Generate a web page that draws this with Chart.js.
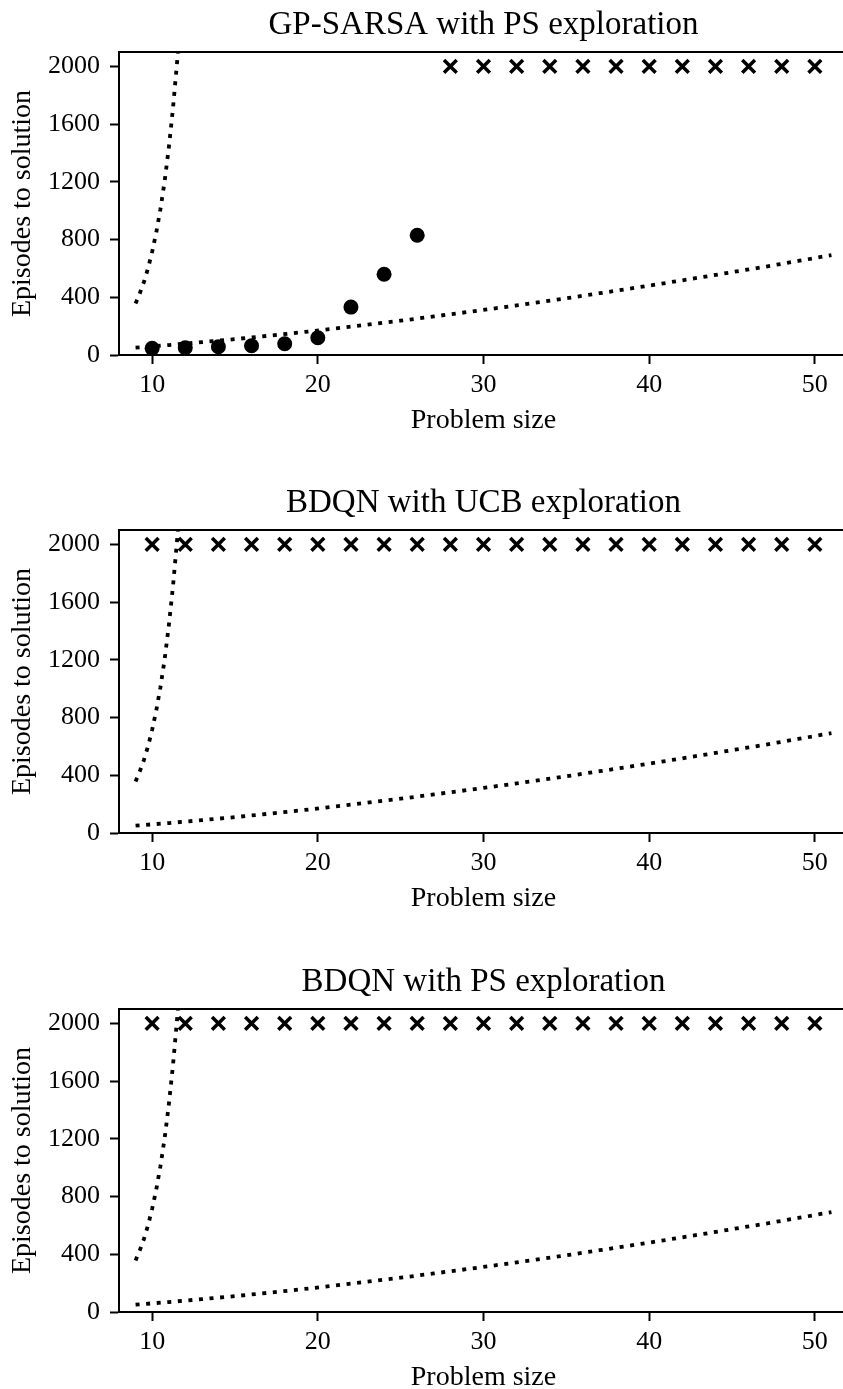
<!DOCTYPE html>
<html>
<head>
<meta charset="utf-8">
<script src="https://cdn.jsdelivr.net/npm/chart.js@4.4.1/dist/chart.umd.min.js"></script>
<style>
  html, body { margin: 0; padding: 0; background: #fff; overflow: hidden; width: 843px; height: 1389px; }
  .panel { position: absolute; left: 0; width: 848px; height: 478px; }
</style>
</head>
<body>
<div class="panel" style="top:0px"><canvas id="chart1" width="848" height="478"></canvas></div>
<div class="panel" style="top:478px"><canvas id="chart2" width="848" height="478"></canvas></div>
<div class="panel" style="top:957px"><canvas id="chart3" width="848" height="478"></canvas></div>
<script>
// panel titles
const titles = ['GP-SARSA with PS exploration', 'BDQN with UCB exploration', 'BDQN with PS exploration'];

// steep reference curve (dotted)
const expX = [9, 9.25, 9.5, 9.75, 10, 10.25, 10.5, 10.75, 11, 11.25, 11.5, 11.75];
const expY = [357, 425, 505, 600, 715, 850, 1010, 1200, 1430, 1700, 2020, 2400];

// slow reference curve (dotted)
const polyX = [9, 11, 13, 15, 17, 19, 21, 23, 25, 27, 29, 31, 33, 35, 37, 39, 41, 43, 45, 47, 49, 51];
const polyY = [51, 69, 89, 110, 133, 157, 183, 210, 238, 267, 297, 328, 360, 393, 428, 463, 499, 536, 574, 612, 652, 692];

// GP-SARSA solved runs
const solvedX = [10, 12, 14, 16, 18, 20, 22, 24, 26];
const solvedY = [46, 50, 57, 64, 78, 120, 332, 560, 830];

// runs that hit the episode cap
const capValue = 2000;
const failX1 = [28, 30, 32, 34, 36, 38, 40, 42, 44, 46, 48, 50];
const failX2 = [10, 12, 14, 16, 18, 20, 22, 24, 26, 28, 30, 32, 34, 36, 38, 40, 42, 44, 46, 48, 50];
const failX3 = [10, 12, 14, 16, 18, 20, 22, 24, 26, 28, 30, 32, 34, 36, 38, 40, 42, 44, 46, 48, 50];

const xTicks = [10, 20, 30, 40, 50];
const yTicks = [0, 400, 800, 1200, 1600, 2000];

const FONT = "'Liberation Serif', 'Times New Roman', serif";

const pairs = (xs, ys) => xs.map((x, i) => ({ x: x, y: ys[i] }));

const panelTitle = {
  id: 'panelTitle',
  afterDraw(chart, args, opts) {
    const { ctx, chartArea } = chart;
    ctx.save();
    ctx.fillStyle = '#000';
    ctx.font = '33px ' + FONT;
    ctx.textAlign = 'center';
    ctx.textBaseline = 'middle';
    ctx.fillText(opts.text, (chartArea.left + chartArea.right) / 2, 25.5);
    ctx.restore();
  }
};

function makeChart(id, title, solved, failX) {
  const datasets = [];
  if (solved) {
    datasets.push({
      type: 'scatter',
      data: pairs(solved[0], solved[1]),
      pointStyle: 'circle',
      pointRadius: 7.5,
      backgroundColor: '#000',
      borderWidth: 0
    });
  }
  datasets.push({
    type: 'scatter',
    data: pairs(failX, failX.map(() => capValue)),
    pointStyle: 'crossRot',
    pointRadius: 9,
    borderColor: '#000',
    borderWidth: 3.5
  });
  [[expX, expY], [polyX, polyY]].forEach(c => {
    datasets.push({
      type: 'line',
      data: pairs(c[0], c[1]),
      borderColor: '#000',
      borderWidth: 3.8,
      borderDash: [4, 6.6],
      borderCapStyle: 'butt',
      pointRadius: 0,
      fill: false,
      tension: 0
    });
  });

  new Chart(document.getElementById(id), {
    data: { datasets: datasets },
    options: {
      responsive: false,
      animation: false,
      devicePixelRatio: 1,
      layout: { autoPadding: false, padding: { top: 52, right: 0, bottom: 33, left: 0 } },
      plugins: {
        legend: { display: false },
        tooltip: { enabled: false },
        panelTitle: { text: title }
      },
      scales: {
        x: {
          type: 'linear',
          position: 'bottom',
          min: 8,
          max: 52,
          afterBuildTicks: s => { s.ticks = xTicks.map(v => ({ value: v })); },
          afterFit: s => { s.height = 90; s.paddingLeft = 0; s.paddingRight = 0; },
          grid: { display: true, drawOnChartArea: false, drawTicks: true, tickLength: 9, tickWidth: 2, tickColor: '#000' },
          border: { display: true, color: '#000', width: 2 },
          ticks: { color: '#000', font: { family: FONT, size: 26 }, padding: 6, maxRotation: 0, callback: v => String(v) },
          title: { display: true, text: 'Problem size', color: '#000', font: { family: FONT, size: 28 }, padding: { top: 0, bottom: 8 } }
        },
        xTop: {
          type: 'linear',
          position: 'top',
          min: 8,
          max: 52,
          afterFit: s => { s.height = 0; s.paddingLeft = 0; s.paddingRight = 0; },
          grid: { display: false },
          ticks: { display: false },
          border: { display: true, color: '#000', width: 2 }
        },
        y: {
          type: 'linear',
          position: 'left',
          min: 0,
          max: 2100,
          afterBuildTicks: s => { s.ticks = yTicks.map(v => ({ value: v })); },
          afterFit: s => { s.width = 119; s.paddingTop = 0; s.paddingBottom = 0; },
          grid: { display: true, drawOnChartArea: false, drawTicks: true, tickLength: 9, tickWidth: 2, tickColor: '#000' },
          border: { display: true, color: '#000', width: 2 },
          ticks: { color: '#000', font: { family: FONT, size: 26 }, padding: 10, callback: v => String(v) },
          title: { display: true, text: 'Episodes to solution', color: '#000', font: { family: FONT, size: 28 }, padding: { top: 6, bottom: 0 } }
        }
      }
    },
    plugins: [panelTitle]
  });
}

makeChart('chart1', titles[0], [solvedX, solvedY], failX1);
makeChart('chart2', titles[1], null, failX2);
makeChart('chart3', titles[2], null, failX3);
</script>
</body>
</html>
